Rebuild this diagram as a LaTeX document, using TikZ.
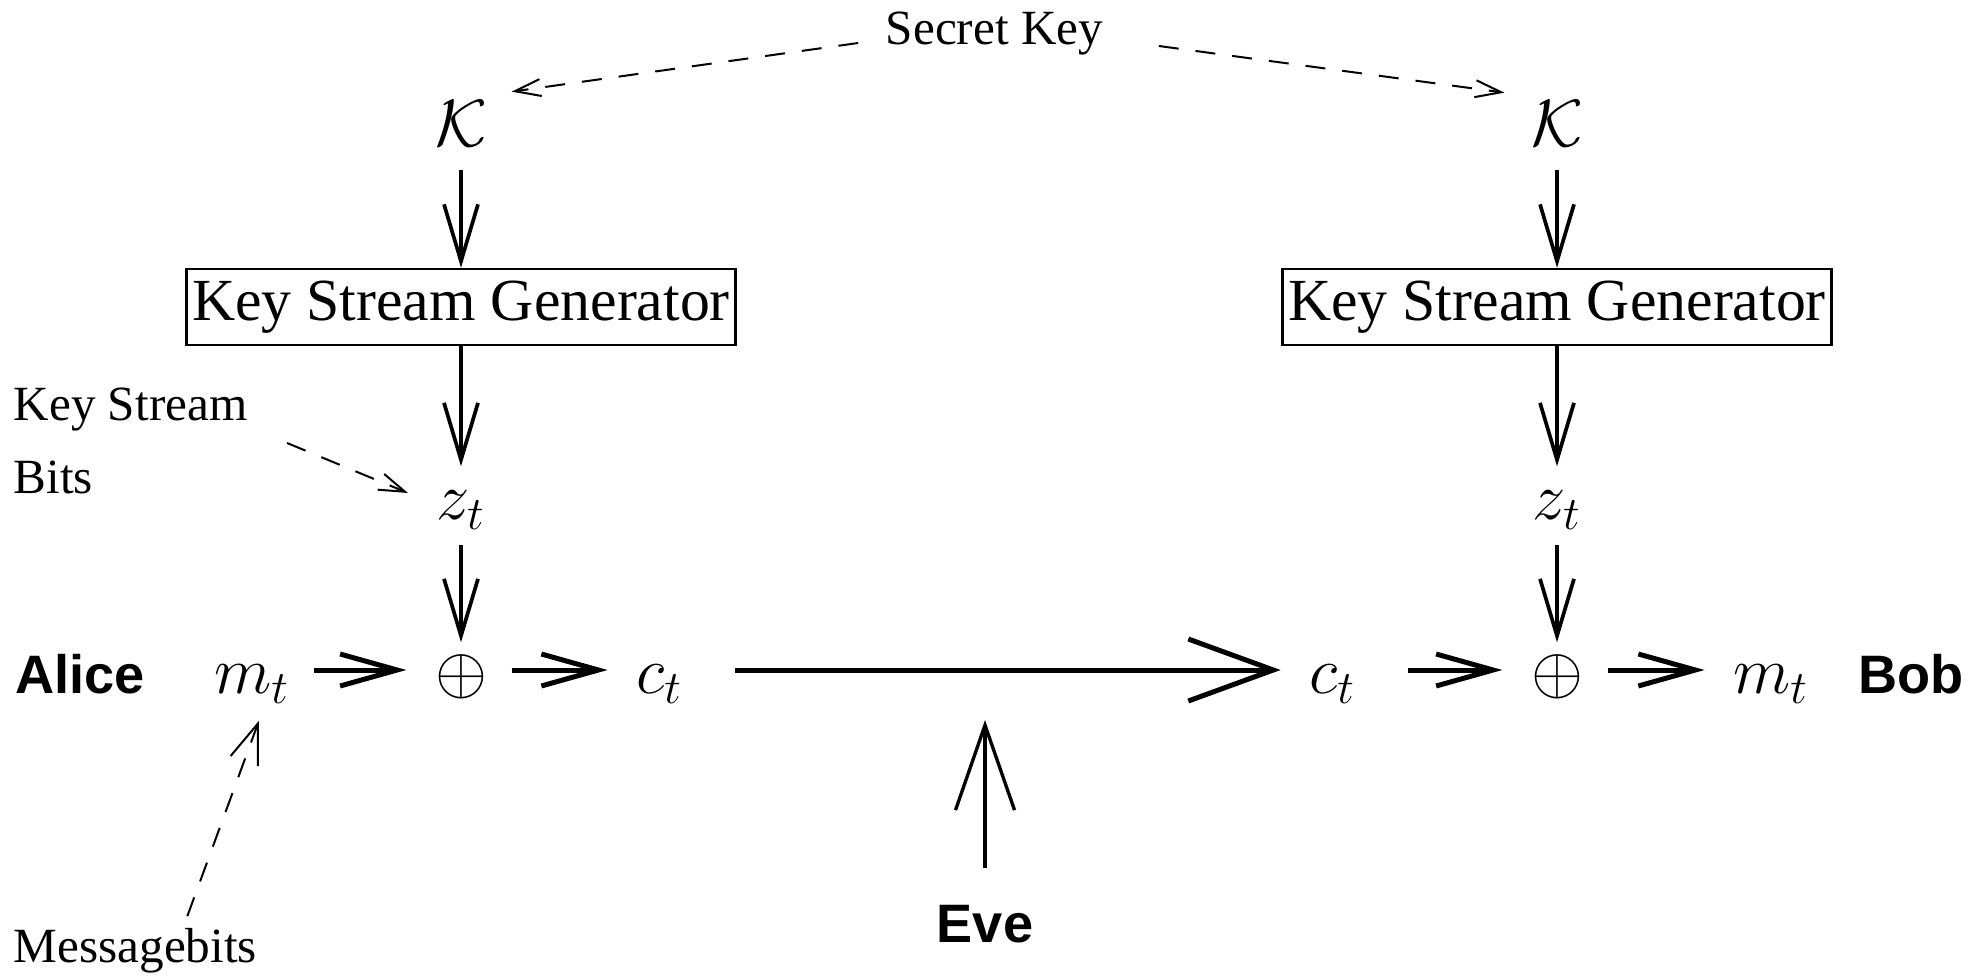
\RequirePackage{fix-cm}
\documentclass[tikz,border=0pt]{standalone}
\usepackage{fontspec}
\setmainfont{Liberation Serif}
\setsansfont{Liberation Sans}
\usetikzlibrary{arrows.meta}

\tikzset{
  lbl/.style={inner sep=0pt, font=\fontsize{14}{17}\selectfont},
  who/.style={inner sep=0pt, anchor=base, font=\fontsize{15.4}{18}\selectfont\sffamily\bfseries},
  sym/.style={inner sep=0pt, anchor=base, font=\fontsize{19}{23}\selectfont},
  row/.style={sym, text height=0.50cm, text depth=0.04cm},
  kgen/.style={draw, line width=0.7pt, inner sep=0pt, minimum width=5.49cm, minimum height=0.76cm, font=\fontsize{17}{20}\selectfont},
  varr/.style={line width=1.05pt, -{Straight Barb[length=0.57cm, width=0.34cm]}},
  harr/.style={line width=1.42pt, -{Straight Barb[length=0.57cm, width=0.32cm]}, shorten <=0.24cm, shorten >=0.28cm},
  dasharr/.style={line width=0.57pt, dash pattern=on 0.2cm off 0.17cm, -{Straight Barb[length=0.26cm, width=0.17cm]}}
}

\begin{document}
\begin{tikzpicture}
    \useasboundingbox (0,0) rectangle (19.84,9.78);

    \node[lbl, anchor=base] (SK) at (9.945,9.33) {Secret Key};
    \node[sym] (KA) at (4.61,8.31) {$\mathcal{K}$};
    \node[sym] (KB) at (15.57,8.31) {$\mathcal{K}$};
    \node[kgen] (genA) at (4.61,6.71) {Key Stream Generator};
    \node[kgen] (genB) at (15.57,6.71) {Key Stream Generator};
    \node[sym, text height=0.52cm, text depth=0.25cm] (zA) at (4.61,4.59) {$z_t$};
    \node[sym, text height=0.52cm, text depth=0.25cm] (zB) at (15.57,4.59) {$z_t$};

    \node[who] (alice) at (0.80,2.85) {Alice};
    \node[row] (mA) at (2.52,2.85) {$m_t$};
    \node[row] (xA) at (4.61,2.85) {$\oplus$};
    \node[row] (cA) at (6.595,2.85) {$c_t$};
    \node[row] (cB) at (13.325,2.85) {$c_t$};
    \node[row] (xB) at (15.57,2.85) {$\oplus$};
    \node[row] (mB) at (17.71,2.85) {$m_t$};
    \node[who] (bob) at (19.11,2.85) {Bob};
    \node[who] (eve) at (9.85,0.36) {Eve};
    \coordinate (tap) at (9.85,2.58);

    \node[lbl, anchor=base west] (ks) at (0.13,5.58) {Key Stream};
    \node[lbl, anchor=base west] (bits) at (0.13,4.85) {Bits};
    \node[lbl, anchor=base west] (mb) at (0.13,0.16) {Messagebits};

    \draw[varr, shorten <=0.22cm] (KA) -- (genA);
    \draw[varr] (genA) -- (zA);
    \draw[varr] (zA) -- (xA);
    \draw[varr, shorten <=0.22cm] (KB) -- (genB);
    \draw[varr] (genB) -- (zB);
    \draw[varr] (zB) -- (xB);

    \draw[harr] (mA) -- (xA);
    \draw[harr] (xA) -- (cA);
    \draw[harr, shorten <=0.52cm, -{Straight Barb[length=0.85cm, width=0.62cm]}] (cA) -- (cB);
    \draw[harr, shorten <=0.52cm] (cB) -- (xB);
    \draw[harr] (xB) -- (mB);

    \draw[line width=0.95pt, shorten <=0.36cm, -{Straight Barb[length=0.85cm, width=0.59cm]}] (eve) -- (tap);

    \draw[dasharr] ([shift={(-0.27,0.02)}]SK.base west) -- ([shift={(0.24,0.09)}]KA.north east);
    \draw[dasharr] ([shift={(0.55,-0.01)}]SK.base east) -- ([shift={(-0.26,0.08)}]KB.north west);
    \draw[dasharr] ([shift={(0.39,-0.23)}]ks.base east) -- ([shift={(-0.28,0.26)}]zA.base west);
    \draw[dasharr, -{Straight Barb[length=0.40cm, width=0.29cm]}] ([shift={(0.52,0.11)}]mb.north) -- ([shift={(0.07,-0.23)}]mA.south);
\end{tikzpicture}
\end{document}
